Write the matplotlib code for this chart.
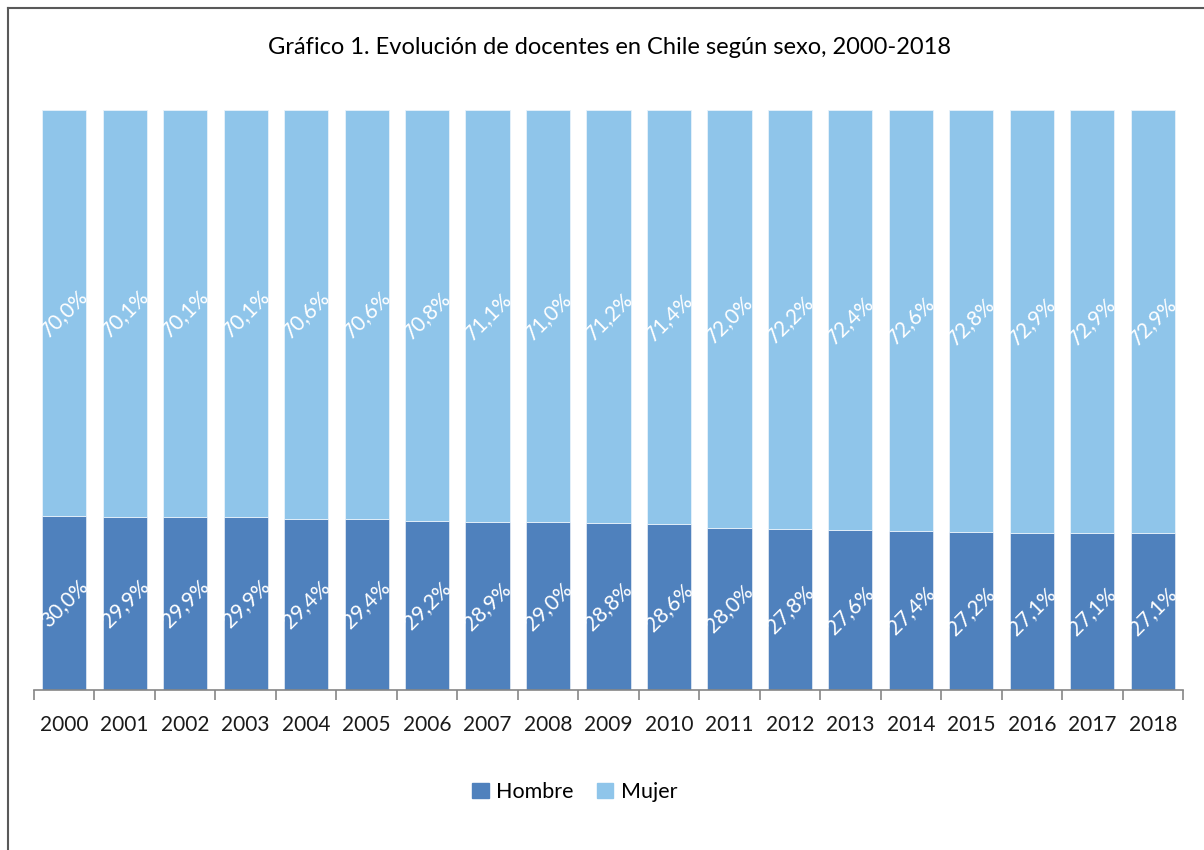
import matplotlib
matplotlib.use("Agg")
import matplotlib.pyplot as plt
from matplotlib.lines import Line2D
from matplotlib.patches import Patch
import numpy as np

plt.rcParams['font.family'] = ['Lato', 'DejaVu Sans']

years = ["2000", "2001", "2002", "2003", "2004", "2005", "2006", "2007", "2008", "2009",
         "2010", "2011", "2012", "2013", "2014", "2015", "2016", "2017", "2018"]
hombre = [30.0, 29.9, 29.9, 29.9, 29.4, 29.4, 29.2, 28.9, 29.0, 28.8,
          28.6, 28.0, 27.8, 27.6, 27.4, 27.2, 27.1, 27.1, 27.1]
mujer = [70.0, 70.1, 70.1, 70.1, 70.6, 70.6, 70.8, 71.1, 71.0, 71.2,
         71.4, 72.0, 72.2, 72.4, 72.6, 72.8, 72.9, 72.9, 72.9]

c_h = "#4F81BD"
c_m = "#8FC5EA"

fig = plt.figure(figsize=(12.04, 8.5), dpi=100)
ax = fig.add_axes([34/1204, 1-690/850, (1183-34)/1204, (690-110)/850])

x = np.arange(len(years))
w = 0.73
ax.bar(x, hombre, w, color=c_h, edgecolor="#DCE6F2", linewidth=0.6, label="Hombre")
ax.bar(x, mujer, w, bottom=hombre, color=c_m, edgecolor="#E8F2FB", linewidth=0.6, label="Mujer")

def fmt(v):
    return f"{v:.1f}%".replace(".", ",")

for xi, h, m in zip(x, hombre, mujer):
    ax.text(xi, h/2, fmt(h), rotation=45, ha="center", va="center", color="white", fontsize=15)
    ax.text(xi, h + m/2, fmt(m), rotation=45, ha="center", va="center", color="white", fontsize=15)

ax.set_xlim(-0.5, len(years)-0.5)
ax.set_ylim(0, 100)
ax.set_yticks([])
for s in ["left", "right", "top"]:
    ax.spines[s].set_visible(False)
ax.spines["bottom"].set_color("#868686")
ax.spines["bottom"].set_linewidth(1.2)
ax.set_xticks(x)
ax.set_xticklabels(years, fontsize=15, color="#1a1a1a")
ax.tick_params(axis="x", which="major", length=0, pad=18)
ax.set_xticks(np.arange(-0.5, len(years)), minor=True)
ax.tick_params(axis="x", which="minor", length=7, width=1.2, color="#868686")

fig.text(609/1204, 1-48/850, "Gráfico 1. Evolución de docentes en Chile según sexo, 2000-2018",
         ha="center", va="center", fontsize=17, color="black")

handles = [Patch(color=c_h, label="Hombre"), Patch(color=c_m, label="Mujer")]
fig.legend(handles=handles, loc="center", bbox_to_anchor=(575/1204, 1-792/850), ncol=2,
           frameon=False, fontsize=15.5, handlelength=0.75, handleheight=0.75,
           handletextpad=0.35, columnspacing=1.1)

fig.add_artist(Line2D([8/1204, 8/1204], [0, 1-8/850], transform=fig.transFigure, color="#595959", lw=1.5))
fig.add_artist(Line2D([8/1204, 1], [1-8/850, 1-8/850], transform=fig.transFigure, color="#595959", lw=1.5))

fig.savefig("out.png", dpi=100)
